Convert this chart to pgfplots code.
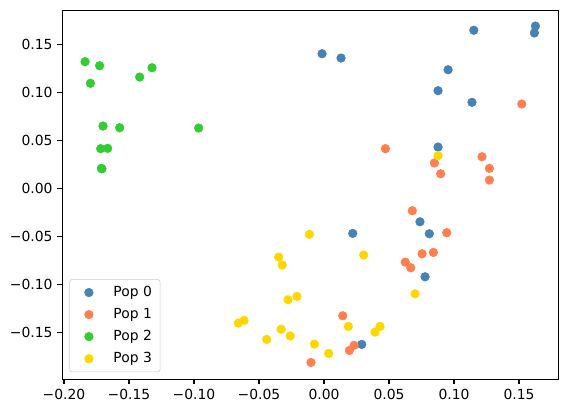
\documentclass[border=0pt]{standalone}
\usepackage{pgfplots}
\pgfplotsset{compat=1.18}
\usepackage{fontspec}
\setmainfont{DejaVu Sans}
\usetikzlibrary{calc}

\definecolor{pop0}{RGB}{70,130,180}
\definecolor{pop1}{RGB}{255,127,80}
\definecolor{pop2}{RGB}{50,205,50}
\definecolor{pop3}{RGB}{255,215,0}

\begin{document}
\begin{tikzpicture}
\begin{axis}[
    scale only axis,
    width=357.1pt, height=265.5pt,
    xmin=-0.2013, xmax=0.1802,
    ymin=-0.1986, ymax=0.1854,
    axis line style={line width=0.8pt},
    tick align=outside,
    major tick length=3.5pt,
    tick style={line width=0.8pt, black},
    xtick pos=left, ytick pos=left,
    xtick={-0.2,-0.15,-0.1,-0.05,0,0.05,0.1,0.15},
    xticklabels={−0.20,−0.15,−0.10,−0.05,0.00,0.05,0.10,0.15},
    ytick={-0.15,-0.1,-0.05,0,0.05,0.1,0.15},
    yticklabels={−0.15,−0.10,−0.05,0.00,0.05,0.10,0.15},
    tick label style={font=\fontsize{10}{12}\selectfont},
    legend style={at={(axis description cs:0,0)}, anchor=south west,
        xshift=5pt, yshift=5pt, draw=black!20, rounded corners=2pt,
        font=\fontsize{10}{12}\selectfont, row sep=3pt, inner xsep=4pt, inner ysep=3pt},
    legend cell align=left,
    legend image code/.code={
        \path[draw=none, fill=none] (0cm,0cm) -- (0.9cm,0cm);
        \path[#1, draw=none] plot[only marks] coordinates {(0.35cm,0cm)};
    },
]
% Pop 0
\addplot[only marks, mark=*, mark size=3.1pt, color=pop0] coordinates {
    (-0.0015,0.1402) (0.0131,0.1357) (0.1152,0.1646) (0.1626,0.1690)
    (0.1618,0.1618) (0.0954,0.1235) (0.0877,0.1017) (0.1138,0.0896)
    (0.0877,0.0430) (0.0738,-0.0348) (0.0810,-0.0473) (0.0221,-0.0469)
    (0.0777,-0.0921) (0.0290,-0.1625)
};
\addlegendentry{Pop 0}
% Pop 1
\addplot[only marks, mark=*, mark size=3.1pt, color=pop1] coordinates {
    (0.1521,0.0878) (0.0472,0.0413) (0.1215,0.0329) (0.0849,0.0264)
    (0.1272,0.0208) (0.0897,0.0152) (0.1272,0.0086) (0.0679,-0.0233)
    (0.0944,-0.0462) (0.0754,-0.0681) (0.0841,-0.0667) (0.0625,-0.0768)
    (0.0667,-0.0827) (0.0144,-0.1327) (0.0231,-0.1635) (0.0195,-0.1688)
    (-0.0100,-0.1813)
};
\addlegendentry{Pop 1}
% Pop 2
\addplot[only marks, mark=*, mark size=3.1pt, color=pop2] coordinates {
    (-0.1838,0.1319) (-0.1726,0.1277) (-0.1797,0.1094) (-0.1418,0.1159)
    (-0.1323,0.1256) (-0.1700,0.0649) (-0.1572,0.0631) (-0.0964,0.0628)
    (-0.1718,0.0413) (-0.1664,0.0417) (-0.1713,0.0208) (-0.1708,0.0203)
};
\addlegendentry{Pop 2}
% Pop 3
\addplot[only marks, mark=*, mark size=3.1pt, color=pop3] coordinates {
    (0.0877,0.0340) (-0.0113,-0.0479) (0.0305,-0.0695) (0.0700,-0.1098)
    (-0.0208,-0.1125) (-0.0277,-0.1160) (-0.0349,-0.0716) (-0.0321,-0.0799)
    (-0.0659,-0.1403) (-0.0615,-0.1375) (-0.0330,-0.1467) (-0.0441,-0.1573)
    (-0.0260,-0.1537) (0.0187,-0.1438) (0.0431,-0.1438) (0.0392,-0.1497)
    (-0.0074,-0.1622) (0.0036,-0.1719)
};
\addlegendentry{Pop 3}
\end{axis}
\pgfresetboundingbox
\path[use as bounding box] ($(current axis.south west)+(-44.86pt,-24.48pt)$)
    rectangle ($(current axis.north east)+(6.98pt,7.42pt)$);
\end{tikzpicture}
\end{document}
